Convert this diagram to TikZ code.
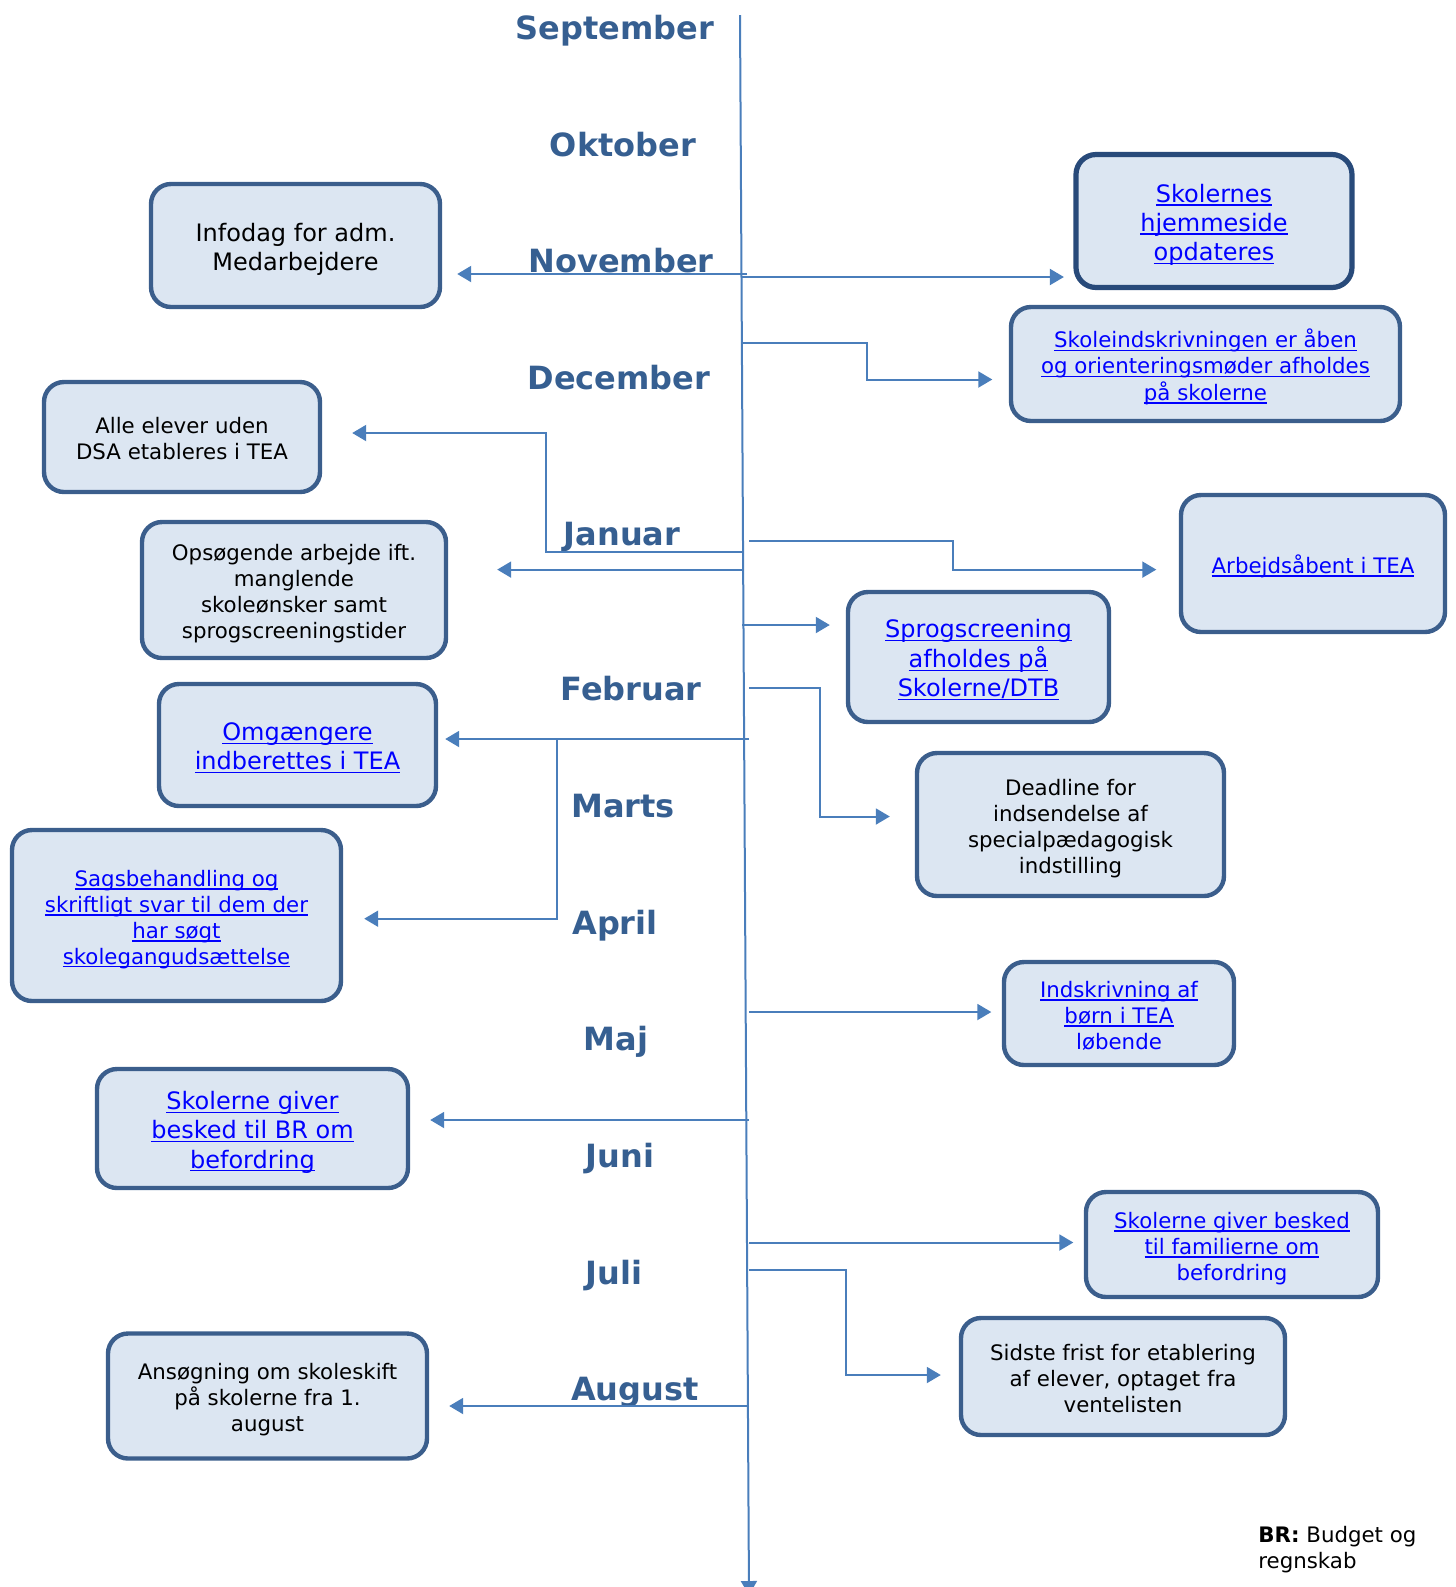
\documentclass[tikz,border=0pt]{standalone}
\usepackage{fontspec}
\setmainfont{DejaVu Sans}
\usepackage{xcolor}
\usetikzlibrary{arrows.meta}

\definecolor{monthblue}{RGB}{54,95,145}
\definecolor{boxline}{RGB}{59,94,140}
\definecolor{boxdark}{RGB}{40,74,122}
\definecolor{boxfill}{RGB}{220,230,242}
\definecolor{arrowblue}{RGB}{74,126,187}
\definecolor{linkblue}{RGB}{0,0,255}

\newsavebox{\lkbox}
\newcommand{\lk}[1]{\sbox{\lkbox}{#1}\rlap{\rule[-1.7pt]{\wd\lkbox}{0.7pt}}\usebox{\lkbox}}
% box text, set a little below the middle
\newcommand{\evt}[1]{\raisebox{0pt}[\dimexpr\height+4.5pt\relax][\depth]{\begin{tabular}{@{}c@{}}#1\end{tabular}}}

\tikzset{
  month/.style={font=\fontsize{16}{19}\selectfont\bfseries, text=monthblue, text height=12.2pt, text depth=0pt},
  event/.style={rectangle, rounded corners=10pt, draw=boxline, line width=2.2pt, fill=boxfill, inner sep=0pt},
  big/.style={font=\fontsize{12}{14.6}\selectfont},
  small/.style={font=\fontsize{10.66}{12.95}\selectfont},
  link/.style={text=linkblue},
  conn/.style={draw=arrowblue, line width=1pt, -{Triangle[length=7pt,width=8pt]}},
}

\begin{document}
\begin{tikzpicture}[x=0.5pt, y=-0.5pt]
  \useasboundingbox (0,0) rectangle (1456,1587);

  % time axis
  \coordinate (top) at (740,15);
  \coordinate (bot) at (749,1595);
  \draw[conn] (top) -- (bot);

  % months
  \node[month] (mSep) at (615,27) {September};
  \node[month] (mOkt) at (623,144) {Oktober};
  \node[month] (mNov) at (621,260) {November};
  \node[month] (mDec) at (619,377) {December};
  \node[month] (mJan) at (622,533) {Januar};
  \node[month] (mFeb) at (631,688) {Februar};
  \node[month] (mMar) at (623,805) {Marts};
  \node[month] (mApr) at (615,922) {April};
  \node[month] (mMaj) at (616,1038) {Maj};
  \node[month] (mJun) at (620,1155) {Juni};
  \node[month] (mJul) at (614,1272) {Juli};
  \node[month] (mAug) at (635,1388) {August};

  % left side
  \node[event, big, minimum width=144.5pt, minimum height=61.5pt] (infodag) at (295.5,245.5) {\evt{Infodag for adm.\\Medarbejdere}};
  \node[event, small, minimum width=138pt, minimum height=55pt] (alle) at (182,437) {\evt{Alle elever uden\\DSA etableres i TEA}};
  \node[event, small, minimum width=152pt, minimum height=68pt] (opsoeg) at (294,590) {\evt{Opsøgende arbejde ift.\\manglende\\skoleønsker samt\\sprogscreeningstider}};
  \node[event, big, link, minimum width=138.5pt, minimum height=61pt] (omg) at (297.5,745) {\evt{\lk{Omgængere}\\\lk{indberettes i TEA}}};
  \node[event, small, link, minimum width=164.5pt, minimum height=85.5pt] (sags) at (176.5,915.5) {\evt{\lk{Sagsbehandling og}\\\lk{skriftligt svar til dem der}\\\lk{har søgt}\\\lk{skolegangudsættelse}}};
  \node[event, big, link, minimum width=155.5pt, minimum height=59.5pt] (brbesked) at (252.5,1128.5) {\evt{\lk{Skolerne giver}\\\lk{besked til BR om}\\\lk{befordring}}};
  \node[event, small, minimum width=159.5pt, minimum height=62.5pt] (ansoeg) at (267.5,1396) {\evt{Ansøgning om skoleskift\\på skolerne fra 1.\\august}};

  % right side
  \node[event, big, link, draw=boxdark, line width=2.6pt, minimum width=138pt, minimum height=66.5pt] (hjemme) at (1214,221) {\evt{\lk{Skolernes}\\\lk{hjemmeside}\\\lk{opdateres}}};
  \node[event, small, link, minimum width=194.5pt, minimum height=57pt] (skoleind) at (1205.5,364) {\evt{\lk{Skoleindskrivningen er åben}\\\lk{og orienteringsmøder afholdes}\\\lk{på skolerne}}};
  \node[event, small, link, minimum width=132pt, minimum height=68.5pt] (arbejd) at (1313,563.5) {\evt{\lk{Arbejdsåbent i TEA}}};
  \node[event, big, link, minimum width=130.5pt, minimum height=65pt] (sprog) at (978.5,657) {\evt{\lk{Sprogscreening}\\\lk{afholdes på}\\\lk{Skolerne/DTB}}};
  \node[event, small, minimum width=153.5pt, minimum height=71.5pt] (deadline) at (1070.5,824.5) {\evt{Deadline for\\indsendelse af\\specialpædagogisk\\indstilling}};
  \node[event, small, link, minimum width=115pt, minimum height=51.5pt] (indskr) at (1119,1013.5) {\evt{\lk{Indskrivning af}\\\lk{børn i TEA}\\løbende}};
  \node[event, small, link, minimum width=146pt, minimum height=52.5pt] (famil) at (1232,1244.5) {\evt{\lk{Skolerne giver besked}\\\lk{til familierne om}\\befordring}};
  \node[event, small, minimum width=162pt, minimum height=58.5pt] (sidste) at (1123,1376.5) {\evt{Sidste frist for etablering\\af elever, optaget fra\\ventelisten}};

  \node[small, anchor=west, align=left, inner sep=0pt] (legend) at (1258,1549.5) {\textbf{BR:} Budget og\\regnskab};

  % points on the axis
  \coordinate (cNovL) at (747,274);
  \coordinate (cNovR) at (742,277);
  \coordinate (cDec) at (742,343);
  \coordinate (cJanA) at (743,551.5);
  \coordinate (cJanB) at (743,569.6);
  \coordinate (cJanR) at (749,541);
  \coordinate (cSprog) at (742,625);
  \coordinate (cFebR) at (749,688);
  \coordinate (cFebL) at (749,739);
  \coordinate (cMaj) at (749,1012);
  \coordinate (cJun) at (749,1120);
  \coordinate (cJulA) at (749,1242.5);
  \coordinate (cJulB) at (749,1270);
  \coordinate (cAug) at (749,1406);

  % bends
  \coordinate (kDec) at (867,379.5);
  \coordinate (kJanL) at (546,433);
  \coordinate (kJanR) at (953,569.6);
  \coordinate (kFebR) at (819.5,816.5);
  \coordinate (kFebL) at (556.5,918.7);
  \coordinate (kJul) at (846,1375);

  \draw[conn, shorten >=7.5pt] (cNovL) -- (cNovL -| infodag.east);
  \draw[conn, shorten >=4.75pt] (cNovR) -- (cNovR -| hjemme.west);
  \draw[conn, shorten >=8.25pt] (cDec) -| (kDec) -- (kDec -| skoleind.west);
  \draw[conn, shorten >=15pt] (cJanA) -| (kJanL) -- (kJanL -| alle.east);
  \draw[conn, shorten >=24.5pt] (cJanB) -- (cJanB -| opsoeg.east);
  \draw[conn, shorten >=11.25pt] (cJanR) -| (kJanR) -- (kJanR -| arbejd.west);
  \draw[conn, shorten >=8pt] (cSprog) -- (cSprog -| sprog.west);
  \draw[conn, shorten >=12.5pt] (cFebR) -| (kFebR) -- (kFebR -| deadline.west);
  \draw[conn, shorten >=3.5pt] (cFebL) -- (cFebL -| omg.east);
  \draw[conn, shorten >=10.5pt] (cFebL -| kFebL) -- (kFebL) -- (kFebL -| sags.east);
  \draw[conn, shorten >=5.25pt] (cMaj) -- (cMaj -| indskr.west);
  \draw[conn, shorten >=10pt] (cJun) -- (cJun -| brbesked.east);
  \draw[conn, shorten >=5.25pt] (cJulA) -- (cJulA -| famil.west);
  \draw[conn, shorten >=9pt] (cJulB) -| (kJul) -- (kJul -| sidste.west);
  \draw[conn, shorten >=10pt] (cAug) -- (cAug -| ansoeg.east);
\end{tikzpicture}
\end{document}
